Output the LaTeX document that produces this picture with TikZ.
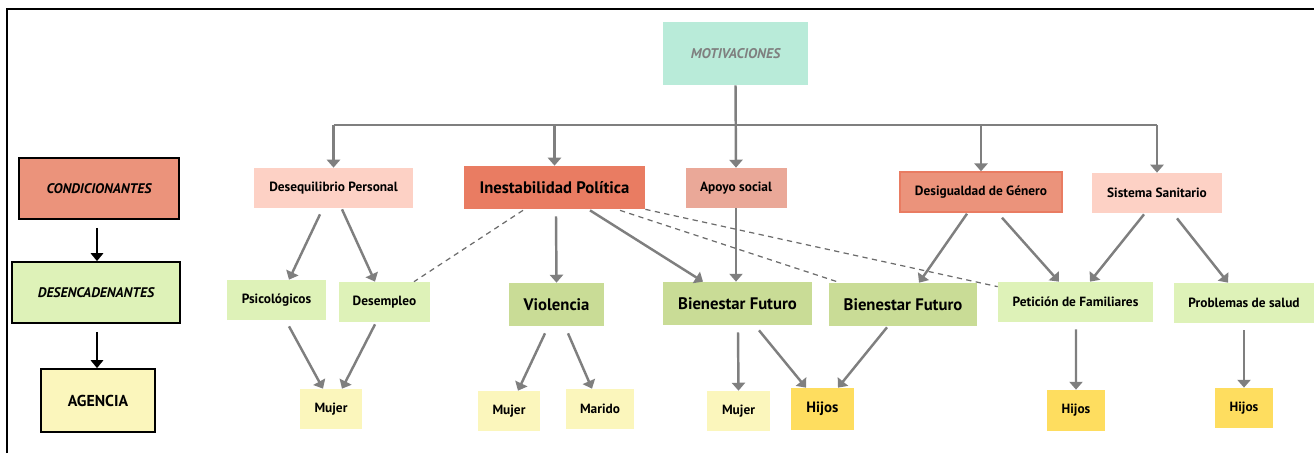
\documentclass[tikz,border=0pt]{standalone}
\usepackage{fontspec}
\setmainfont{PT Sans}
\usetikzlibrary{arrows.meta,calc}

\definecolor{mint}{HTML}{B9EBD9}
\definecolor{rosa}{HTML}{FDD1C5}
\definecolor{coral}{HTML}{E97C62}
\definecolor{salmon}{HTML}{EAA898}
\definecolor{naranja}{HTML}{EB937B}
\definecolor{verdeclaro}{HTML}{DEF2B8}
\definecolor{verde}{HTML}{C9DC96}
\definecolor{crema}{HTML}{FBF6BC}
\definecolor{amarillo}{HTML}{FEDD5F}
\definecolor{flecha}{HTML}{7F7F7F}

\tikzset{
  box/.style={inner sep=0pt, minimum height=0.8cm, font=\fontsize{7.6}{9}\selectfont\bfseries},
  bigbox/.style={box, minimum height=0.86cm, font=\fontsize{9.5}{11}\selectfont\bfseries},
  legendbox/.style={draw=black, line width=1pt, inner sep=0pt, minimum height=1.22cm,
    font=\fontsize{7.9}{9}\selectfont\bfseries\itshape},
  link/.style={draw=flecha, line width=1.4pt, -{Triangle[length=4.5pt,width=7.5pt]}},
  hint/.style={draw=flecha!85!black, line width=0.7pt, dash pattern=on 3pt off 2.5pt},
  legendlink/.style={black, line width=1.1pt, -{Triangle[length=4.5pt,width=7pt]}}
}

\begin{document}
\begin{tikzpicture}[x=0.02cm,y=-0.02cm]
  \useasboundingbox (0,0) rectangle (1314,453);
  \draw[line width=1.1pt] (7,453) -- (7,9) -- (1314,9);

  \node[legendbox, fill=naranja, minimum width=3.2cm] (cond) at (99,188.5) {CONDICIONANTES};
  \node[legendbox, fill=verdeclaro, minimum width=3.36cm] (desen) at (96,292.5) {DESENCADENANTES};
  \node[legendbox, fill=crema, minimum width=2.28cm, minimum height=1.26cm,
    font=\fontsize{9}{11}\selectfont\bfseries] (agen) at (98,400.5) {AGENCIA};

  \node[box, fill=mint, minimum width=2.9cm, minimum height=1.26cm, text=flecha,
    font=\fontsize{8}{9}\selectfont\bfseries\itshape] (motiv) at (735.5,53.5) {MOTIVACIONES};

  \node[box, fill=rosa, minimum width=3.18cm] (deseq) at (333.5,188) {Desequilibrio Personal};
  \node[bigbox, fill=coral, minimum width=3.62cm] (inest) at (554.5,187.5) {Inestabilidad Política};
  \node[box, fill=salmon, minimum width=2.02cm] (apoyo) at (736,188) {Apoyo social};
  \node[box, fill=naranja, draw=coral, line width=0.8pt, minimum width=3.24cm] (desig) at (981,192) {Desigualdad de Género};
  \node[box, fill=rosa, minimum width=2.6cm] (sist) at (1157,193) {Sistema Sanitario};

  \node[box, fill=verdeclaro, minimum width=1.98cm] (psico) at (276.5,300) {Psicológicos};
  \node[box, fill=verdeclaro, minimum width=1.82cm] (desem) at (384.5,302) {Desempleo};
  \node[bigbox, fill=verde, minimum width=1.9cm] (viol) at (556.5,304.5) {Violencia};
  \node[bigbox, fill=verde, minimum width=2.98cm] (bien1) at (737.5,303.5) {Bienestar Futuro};
  \node[bigbox, fill=verde, minimum width=2.96cm] (bien2) at (903,304.5) {Bienestar Futuro};
  \node[box, fill=verdeclaro, minimum width=3.1cm] (petic) at (1075.5,302) {Petición de Familiares};
  \node[box, fill=verdeclaro, minimum width=2.8cm] (probl) at (1244,303) {Problemas de salud};

  \node[box, fill=crema, minimum width=1.24cm] (mujer1) at (331,409) {Mujer};
  \node[box, fill=crema, minimum width=1.24cm] (mujer2) at (509,411) {Mujer};
  \node[box, fill=crema, minimum width=1.36cm] (marido) at (600,409) {Marido};
  \node[box, fill=crema, minimum width=1.26cm] (mujer3) at (738.5,411) {Mujer};
  \node[box, fill=amarillo, minimum width=1.26cm, minimum height=0.84cm,
    font=\fontsize{8.5}{10}\selectfont\bfseries] (hijos1) at (822.5,409) {Hijos};
  \node[box, fill=amarillo, minimum width=1.16cm, minimum height=0.82cm] (hijos2) at (1076,410.5) {Hijos};
  \node[box, fill=amarillo, minimum width=1.16cm] (hijos3) at (1244,408) {Hijos};

  \coordinate (bus) at (735.5,125);

  \draw[legendlink] ($(cond.south)+(-2,8)$) -- ($(desen.north)+(1,0)$);
  \draw[legendlink] ($(desen.south)+(1,8)$) -- ($(agen.north)+(-1,0)$);

  \draw[draw=flecha, line width=1.4pt] (bus -| deseq) -- (bus -| sist);
  \draw[link] (motiv.south) -- (apoyo.north);
  \foreach \n in {deseq,inest,desig,sist}
    \draw[link] (bus -| \n) -- (\n.north);

  \draw[link] ($(deseq.south)+(-13.5,6)$) -- ($(psico.north)+(12.5,0)$);
  \draw[link] ($(deseq.south)+(8.5,1)$) -- ($(desem.north)+(-9.5,0)$);
  \draw[link] ($(psico.south)+(12.5,6)$) -- ($(mujer1.north)+(-8,0)$);
  \draw[link] ($(desem.south)+(-9.5,2)$) -- ($(mujer1.north)+(11,0)$);

  \draw[link] ($(inest.south)+(1.5,7)$) -- (viol.north);
  \draw[link] ($(inest.south)+(35.5,1)$) -- ($(bien1.north)+(-34.5,0)$);
  \draw[link] (apoyo.south) -- (apoyo.south |- bien1.north);
  \draw[hint] ($(inest.south)+(-31.5,1)$) -- ($(desem.north)+(29.5,0)$);
  \draw[hint] ($(inest.south)+(65.5,1)$) -- ($(bien2.north)+(-63,0)$);
  \draw[hint] (inest.south east) -- ($(petic.north west)+(0,5)$);

  \draw[link] ($(viol.south)+(-11.5,7)$) -- ($(mujer2.north)+(9,0)$);
  \draw[link] ($(viol.south)+(11.5,7)$) -- ($(marido.north)+(-8,0)$);
  \draw[link] ($(bien1.south)+(0.5,7)$) -- (mujer3.north);
  \draw[link] ($(bien1.south)+(21.5,5)$) -- ($(hijos1.north)+(-16.5,0)$);
  \draw[link] ($(bien2.south)+(-16,1)$) -- ($(hijos1.north)+(15.5,0)$);

  \draw[link] ($(desig.south)+(-14,1)$) -- ($(bien2.north)+(16,0)$);
  \draw[link] ($(desig.south)+(21,5)$) -- ($(petic.north)+(-16.5,0)$);
  \draw[link] ($(sist.south)+(-13,1)$) -- ($(petic.north)+(14.5,0)$);
  \draw[link] ($(sist.south)+(20,5)$) -- ($(probl.north)+(-16,0)$);
  \draw[link] ($(petic.south)+(0.5,7)$) -- (hijos2.north);
  \draw[link] ($(probl.south)+(0,7)$) -- (hijos3.north);
\end{tikzpicture}
\end{document}
